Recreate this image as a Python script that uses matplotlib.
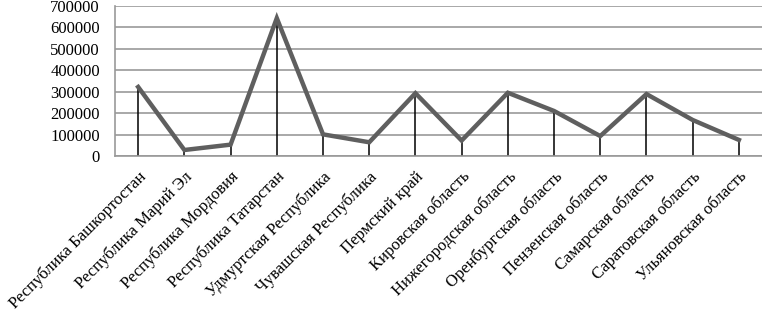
import numpy as np
import matplotlib
matplotlib.use('Agg')
import matplotlib.pyplot as plt

regions = ['Республика Башкортостан', 'Республика Марий Эл', 'Республика Мордовия',
           'Республика Татарстан', 'Удмуртская Республика', 'Чувашская Республика',
           'Пермский край', 'Кировская область', 'Нижегородская область',
           'Оренбургская область', 'Пензенская область', 'Самарская область',
           'Саратовская область', 'Ульяновская область']
values = [322000, 28000, 53000, 643000, 101000, 64000, 293000,
          72000, 295000, 210000, 93000, 289000, 168000, 75000]
yticks = [0, 100000, 200000, 300000, 400000, 500000, 600000, 700000]

plt.rcParams['font.family'] = ['Liberation Serif', 'DejaVu Serif']
plt.rcParams['font.size'] = 12

fig = plt.figure(figsize=(7.62, 3.13), dpi=100)
ax = fig.add_axes([0.151, 0.5016, 0.849, 0.4794])

x = np.arange(len(regions))
ax.vlines(x, 0, values, color='black', linewidth=1.1, zorder=2)
ax.plot(x, values, color='#5f5f5f', linewidth=3.2, solid_joinstyle='miter', zorder=3)

ax.set_xlim(-0.5, len(regions) - 0.5)
ax.set_ylim(0, 700000)
ax.set_yticks(yticks)
ax.set_yticklabels([str(v) for v in yticks])
ax.yaxis.grid(True, color='#999999', linewidth=1.2)
ax.set_axisbelow(True)

ax.set_xticks(x)
ax.set_xticklabels(regions, rotation=45, ha='right', rotation_mode='anchor')
ax.tick_params(axis='both', length=0)
ax.tick_params(axis='y', pad=11)
ax.tick_params(axis='x', pad=9)

for s in ['top', 'right']:
    ax.spines[s].set_visible(False)
ax.spines['left'].set_color('#999999')
ax.spines['bottom'].set_color('#999999')
ax.spines['left'].set_linewidth(1.2)
ax.spines['bottom'].set_linewidth(1.2)

fig.savefig('out.png', dpi=100)
